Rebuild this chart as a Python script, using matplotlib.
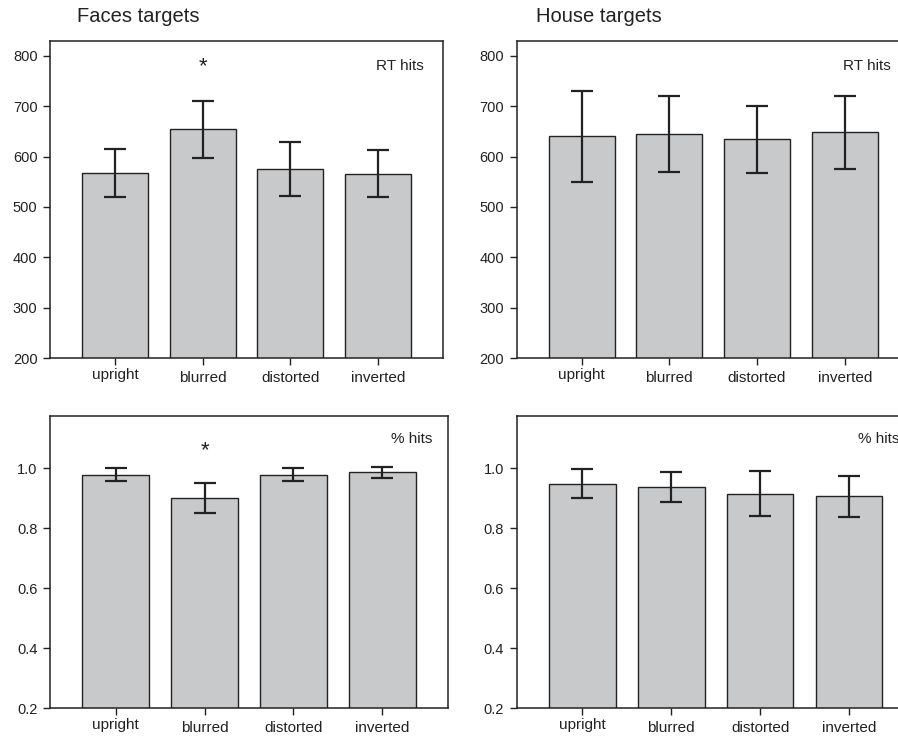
import matplotlib
matplotlib.use("Agg")
import matplotlib.pyplot as plt
import matplotlib.transforms as mtransforms
import numpy as np

plt.rcParams['font.family'] = ['Liberation Sans', 'DejaVu Sans']

categories = ["upright", "blurred", "distorted", "inverted"]

faces_rt = [567, 654, 575, 566]
faces_rt_err = [48, 56, 54, 47]
house_rt = [640, 645, 634, 648]
house_rt_err = [90, 76, 66, 73]

faces_hits = [0.978, 0.902, 0.978, 0.986]
faces_hits_err = [0.022, 0.050, 0.022, 0.017]
house_hits = [0.948, 0.939, 0.915, 0.907]
house_hits_err = [0.048, 0.050, 0.075, 0.068]

rt_ticks = [200, 300, 400, 500, 600, 700, 800]
hit_ticks = [0.2, 0.4, 0.6, 0.8, 1.0]

W, H = 898, 736
fig = plt.figure(figsize=(W / 100, H / 100), dpi=100)

dark = "#222222"
barc = "#c8c9cb"


def px_axes(l, t, r, b):
    return fig.add_axes([l / W, 1 - b / H, (r - l) / W, (b - t) / H])


def panel(ax, vals, errs, ylim, ticks, fmt, label, label_x, star=None):
    x = np.arange(len(categories))
    ax.bar(x, vals, width=0.75, color=barc, edgecolor=dark, linewidth=1.0,
           zorder=2)
    ax.errorbar(x, vals, yerr=errs, fmt='none', ecolor=dark, elinewidth=1.6,
                capsize=8, capthick=1.6, zorder=3)
    ax.set_xlim(-0.74, 3.74)
    ax.set_ylim(*ylim)
    ax.set_xticks(x)
    ax.set_xticklabels(categories, fontsize=11, color=dark)
    ax.set_yticks(ticks)
    ax.set_yticklabels([fmt.format(t) for t in ticks], fontsize=10.5, color=dark)
    ax.tick_params(axis='x', direction='out', length=5, width=1.0, color=dark, pad=4)
    ax.tick_params(axis='y', direction='out', length=5, width=1.0, color=dark, pad=4)
    for s in ax.spines.values():
        s.set_linewidth(1.1)
        s.set_color(dark)
    ax.text(label_x, 0.92, label, transform=ax.transAxes, ha='right', va='center',
            fontsize=11, color=dark)
    if star is not None:
        ax.text(star[0], star[1], "*", ha='center', va='center', fontsize=16,
                color=dark)
    lbl = ax.get_xticklabels()[0]
    lbl.set_transform(lbl.get_transform() +
                      mtransforms.ScaledTranslation(0, 3 / 100, fig.dpi_scale_trans))


ax1 = px_axes(50, 40.7, 443, 358)
panel(ax1, faces_rt, faces_rt_err, (200, 830), rt_ticks, "{:d}", "RT hits", 0.951,
      star=(1, 778))

ax2 = px_axes(516.7, 40.7, 909.7, 358)
panel(ax2, house_rt, house_rt_err, (200, 830), rt_ticks, "{:d}", "RT hits", 0.951)

ax3 = px_axes(50, 415.7, 448, 708.3)
panel(ax3, faces_hits, faces_hits_err, (0.2, 1.175), hit_ticks, "{:.1f}", "% hits",
      0.96, star=(1, 1.058))

ax4 = px_axes(516.7, 415.7, 914.7, 708.3)
panel(ax4, house_hits, house_hits_err, (0.2, 1.175), hit_ticks, "{:.1f}", "% hits",
      0.962)

fig.text(77 / W, 1 - 17 / H, "Faces targets", fontsize=14.5, ha='left', va='center',
         color=dark)
fig.text(536 / W, 1 - 17 / H, "House targets", fontsize=14.5, ha='left', va='center',
         color=dark)

fig.savefig("out.png", dpi=100)
